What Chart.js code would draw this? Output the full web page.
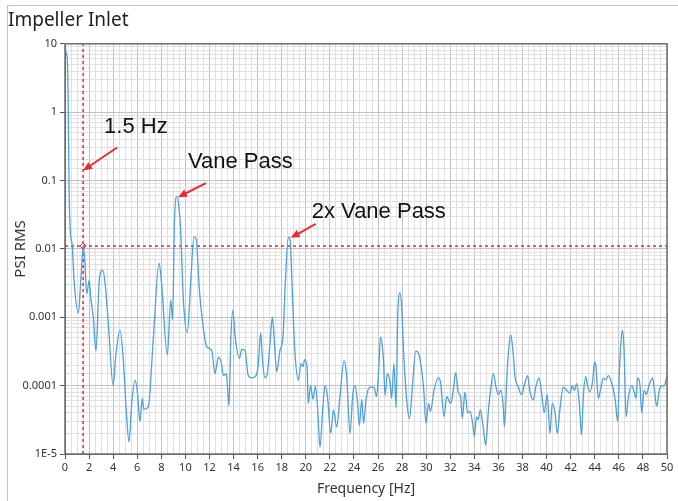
<!DOCTYPE html>
<html>
<head>
<meta charset="utf-8">
<script src="https://cdn.jsdelivr.net/npm/chart.js@4.4.0/dist/chart.umd.min.js"></script>
<style>
  html, body { margin: 0; padding: 0; background: #fff; }
  #wrap { position: relative; width: 678px; height: 501px; }
  #wrap canvas { position: absolute; left: 0; top: 0; }
  #frame { position: absolute; left: 7px; top: 5px; right: 0; bottom: 0;
           border-left: 1px solid #a9c6e4; border-top: 1px solid #a9c6e4; pointer-events: none; }
</style>
</head>
<body>
<div id="wrap">
  <canvas id="spectrum" width="678" height="501"></canvas>
  <div id="frame"></div>
</div>
<script>
// Pressure spectrum at the impeller inlet (PSI RMS vs frequency)
const freqHz = [
  0, 0.19, 0.27, 0.34, 0.42, 0.61, 0.75, 1.11, 1.3, 1.52,
  1.65, 1.8, 2.02, 2.13, 2.35, 2.57, 2.85, 3.13, 3.3, 3.6,
  4.0, 4.24, 4.57, 4.85, 5.07, 5.32, 5.54, 5.81, 6.0, 6.23,
  6.42, 6.55, 6.92, 7.34, 7.81, 8.0, 8.5, 8.78, 8.94, 9.08,
  9.27, 9.45, 9.6, 9.83, 10.16, 10.44, 10.71, 10.9, 11.16, 11.44,
  11.77, 12.18, 12.46, 12.73, 13.0, 13.15, 13.4, 13.62, 13.76, 13.93,
  14.16, 14.48, 14.68, 14.95, 15.22, 15.5, 15.86, 16.06, 16.25, 16.4,
  16.6, 16.8, 17.03, 17.22, 17.4, 17.58, 17.86, 18.1, 18.3, 18.55,
  18.7, 18.9, 19.1, 19.38, 19.6, 19.77, 19.9, 20.1, 20.2, 20.4,
  20.6, 20.8, 20.99, 21.18, 21.4, 21.6, 21.8, 22.07, 22.29, 22.56,
  22.84, 23.17, 23.4, 23.67, 23.9, 24.09, 24.3, 24.45, 24.65, 24.8,
  25.0, 25.33, 25.66, 25.88, 26.08, 26.2, 26.45, 26.58, 26.77, 27.0,
  27.13, 27.32, 27.5, 27.63, 27.82, 27.96, 28.16, 28.38, 28.6, 28.88,
  29.13, 29.35, 29.62, 29.8, 29.98, 30.2, 30.35, 30.65, 31.0, 31.2,
  31.48, 31.7, 32.03, 32.25, 32.45, 32.67, 32.86, 33.0, 33.22, 33.44,
  33.64, 33.86, 34.0, 34.18, 34.32, 34.5, 34.73, 34.94, 35.17, 35.38,
  35.57, 35.8, 35.99, 36.2, 36.4, 36.5, 36.7, 36.88, 37.02, 37.2,
  37.38, 37.65, 37.92, 38.2, 38.43, 38.6, 38.9, 39.1, 39.37, 39.6,
  39.8, 40.05, 40.28, 40.47, 40.7, 40.89, 41.1, 41.39, 41.67, 41.94,
  42.14, 42.3, 42.5, 42.72, 42.9, 43.05, 43.25, 43.4, 43.6, 43.83,
  43.97, 44.1, 44.3, 44.5, 44.72, 44.9, 45.13, 45.4, 45.7, 45.9,
  46.05, 46.18, 46.29, 46.43, 46.6, 46.8, 47.07, 47.3, 47.43, 47.56,
  47.76, 47.9, 48.1, 48.3, 48.5, 48.8, 48.96, 49.14, 49.36, 49.55,
  49.75, 50.0
];

const psiRms = [
  8.1, 5.9, 1.2, 0.072, 0.021, 0.0107, 0.0035, 0.00115, 0.0032, 0.011,
  0.0063, 0.0022, 0.0035, 0.002, 0.001, 0.00032, 0.0035, 0.0049, 0.0035, 0.00081,
  1.0e-4, 3.0e-4, 6.5e-4, 2.3e-4, 4.9e-5, 1.5e-5, 5.5e-5, 1.2e-4, 8.5e-5, 3.0e-5,
  6.5e-5, 4.5e-5, 4.9e-5, 5.1e-4, 6.2e-3, 3.5e-3, 2.8e-4, 1.8e-3, 9.1e-4, 0.021,
  0.058, 0.042, 0.02, 1.8e-3, 5.9e-4, 3.2e-3, 0.015, 0.0138, 2.5e-3, 8.1e-4,
  3.7e-4, 3.3e-4, 1.5e-4, 2.6e-4, 2.1e-4, 1.4e-4, 1.5e-4, 5.1e-5, 4.2e-4, 1.26e-3,
  4.7e-4, 2.5e-4, 3.4e-4, 3.3e-4, 1.4e-4, 1.3e-4, 1.4e-4, 2.1e-4, 5.9e-4, 2.4e-4,
  1.3e-4, 1.5e-4, 4.2e-4, 1.0e-3, 4.2e-4, 1.6e-4, 3.3e-4, 5.0e-4, 3.2e-3, 0.0148,
  0.0132, 1.8e-3, 3.0e-4, 1.2e-4, 2.1e-4, 1.9e-4, 2.4e-4, 1.9e-4, 5.5e-5, 1.0e-4,
  6.3e-5, 9.8e-5, 4.4e-5, 1.26e-5, 4.4e-5, 1.0e-4, 6.9e-5, 2.0e-5, 4.4e-5, 2.5e-5,
  6.9e-5, 2.3e-4, 1.35e-4, 2.0e-5, 7.4e-5, 1.0e-4, 5.5e-5, 2.6e-5, 6.3e-5, 2.8e-5,
  6.2e-5, 9.5e-5, 9.5e-5, 6.9e-5, 2.1e-4, 5.1e-4, 2.4e-4, 7.2e-5, 1.5e-4, 1.1e-4,
  6.5e-5, 2.1e-4, 4.7e-5, 9.1e-4, 2.3e-3, 1.45e-3, 2.3e-4, 6.2e-5, 3.3e-5, 1.1e-4,
  3.2e-4, 3.0e-4, 1.7e-4, 8.5e-5, 2.8e-5, 5.5e-5, 4.2e-5, 8.5e-5, 1.3e-4, 1.1e-4,
  3.5e-5, 6.9e-5, 5.5e-5, 8.5e-5, 1.55e-4, 7.9e-5, 6.9e-5, 3.3e-5, 8.1e-5, 4.0e-5,
  4.2e-5, 2.8e-5, 1.8e-5, 3.5e-5, 3.2e-5, 4.4e-5, 2.5e-5, 1.35e-5, 4.4e-5, 9.5e-5,
  1.5e-4, 9.5e-5, 7.4e-5, 8.5e-5, 4.9e-5, 2.5e-5, 1.35e-4, 3.9e-4, 5.5e-4, 3.3e-4,
  1.35e-4, 9.5e-5, 7.4e-5, 1.1e-4, 1.4e-4, 8.5e-5, 6.2e-5, 9.5e-5, 1.3e-4, 7.4e-5,
  4.0e-5, 7.4e-5, 2.0e-5, 5.5e-5, 4.0e-5, 2.0e-5, 4.4e-5, 9.5e-5, 8.5e-5, 7.8e-5,
  1.0e-4, 8.5e-5, 1.07e-4, 5.5e-5, 1.9e-5, 6.9e-5, 1.35e-4, 1.0e-4, 8.1e-5, 1.2e-4,
  2.2e-4, 1.9e-4, 6.5e-5, 9.1e-5, 1.3e-4, 1.2e-4, 1.4e-4, 1.1e-4, 6.2e-5, 3.0e-5,
  1.7e-4, 4.4e-4, 6.5e-4, 3.5e-4, 3.5e-5, 6.9e-5, 1.0e-4, 7.8e-5, 6.5e-5, 1.3e-4,
  1.0e-4, 4.0e-5, 8.5e-5, 7.4e-5, 1.0e-4, 1.3e-4, 8.5e-5, 5.0e-5, 8.5e-5, 1.0e-4,
  9.8e-5, 1.4e-4
];

// decade labels on the log axis
const yTickLabels = { 10: '10', 1: '1', 0.1: '0.1', 0.01: '0.01', 0.001: '0.001', 0.0001: '0.0001', 0.00001: '1E-5' };

// red cursor lines
const cursorFreq = 1.5;
const cursorLevel = 0.011;

// arrow callouts: tip in data units
const callouts = [
  { text: '1.5 Hz', freq: 1.5, level: 0.14 },
  { text: 'Vane Pass', freq: 9.38, level: 0.057 },
  { text: '2x Vane Pass', freq: 18.75, level: 0.0145 }
];
const calloutOffsets = [
  { tail: [34, -23], label: [21, -38] },
  { tail: [28, -14], label: [10, -29] },
  { tail: [25, -14], label: [21, -20] }
];

const X_MIN = 0, X_MAX = 50, Y_MIN = 1e-5, Y_MAX = 10;
const MAJOR_GRID = '#c2c2c2';
const MINOR_GRID = '#e0e0e0';
const RED = '#e62d32';

function isDecade(v) {
  const l = Math.log10(v);
  return Math.abs(l - Math.round(l)) < 1e-6;
}

const spectrum = freqHz.map((f, i) => ({ x: f, y: psiRms[i] }));

const calloutPlugin = {
  id: 'callouts',
  afterDatasetsDraw(chart) {
    const { ctx, scales: { x, y } } = chart;
    ctx.save();
    callouts.forEach((c, i) => {
      const off = calloutOffsets[i];
      const tx = x.getPixelForValue(c.freq);
      const ty = y.getPixelForValue(c.level);
      const sx = tx + off.tail[0];
      const sy = ty + off.tail[1];
      const ang = Math.atan2(ty - sy, tx - sx);
      const head = 9;
      ctx.strokeStyle = RED;
      ctx.fillStyle = RED;
      ctx.lineWidth = 2;
      ctx.beginPath();
      ctx.moveTo(sx, sy);
      ctx.lineTo(tx - Math.cos(ang) * head * 0.8, ty - Math.sin(ang) * head * 0.8);
      ctx.stroke();
      ctx.beginPath();
      ctx.moveTo(tx, ty);
      ctx.lineTo(tx - head * Math.cos(ang) + 4 * Math.sin(ang), ty - head * Math.sin(ang) - 4 * Math.cos(ang));
      ctx.lineTo(tx - head * Math.cos(ang) - 4 * Math.sin(ang), ty - head * Math.sin(ang) + 4 * Math.cos(ang));
      ctx.closePath();
      ctx.fill();
      ctx.fillStyle = '#111';
      ctx.font = '22px "Liberation Sans", Arial, sans-serif';
      ctx.textAlign = 'left';
      ctx.textBaseline = 'alphabetic';
      ctx.fillText(c.text, tx + off.label[0], ty + off.label[1]);
    });
    ctx.restore();
  },
  afterDraw(chart) {
    const { ctx, chartArea: a } = chart;
    ctx.save();
    ctx.strokeStyle = '#6e6e6e';
    ctx.lineWidth = 1.5;
    ctx.strokeRect(a.left, a.top, a.right - a.left, a.bottom - a.top);
    ctx.restore();
  }
};

new Chart(document.getElementById('spectrum'), {
  type: 'line',
  data: {
    datasets: [
      {
        data: spectrum,
        borderColor: '#4f9fd9',
        borderWidth: 1.3,
        pointRadius: 0,
        cubicInterpolationMode: 'monotone',
        order: 1
      },
      {
        data: [{ x: cursorFreq, y: Y_MIN }, { x: cursorFreq, y: Y_MAX }],
        borderColor: RED,
        borderWidth: 1.5,
        borderDash: [3, 3],
        pointRadius: 0,
        order: 2
      },
      {
        data: [{ x: X_MIN, y: cursorLevel }, { x: X_MAX, y: cursorLevel }],
        borderColor: RED,
        borderWidth: 1.5,
        borderDash: [3, 3],
        pointRadius: 0,
        order: 2
      },
      {
        // cursor crossing marker
        data: [{ x: cursorFreq, y: cursorLevel }],
        showLine: false,
        pointStyle: 'rectRot',
        pointRadius: 3,
        borderColor: RED,
        borderWidth: 1,
        backgroundColor: 'rgba(0,0,0,0)',
        order: 0
      }
    ]
  },
  options: {
    responsive: false,
    animation: false,
    layout: { padding: { left: 8, right: 11, top: 0, bottom: 0 } },
    plugins: {
      legend: { display: false },
      tooltip: { enabled: false },
      title: {
        display: true,
        text: 'Impeller Inlet',
        align: 'start',
        color: '#222',
        font: { family: '"Noto Sans", sans-serif', size: 19, weight: 'normal' },
        padding: { top: 9, bottom: 12 }
      }
    },
    scales: {
      x: {
        type: 'linear',
        min: X_MIN,
        max: X_MAX,
        afterFit(scale) { scale.height = 47; },
        ticks: {
          stepSize: 0.5,
          autoSkip: false,
          maxRotation: 0,
          padding: 2,
          color: '#333',
          font: { family: '"Noto Sans", sans-serif', size: 11 },
          callback: v => (v % 2 === 0 ? String(v) : '')
        },
        grid: {
          tickLength: 5,
          color: ctx => (ctx.tick && ctx.tick.value % 2 === 0 ? MAJOR_GRID : MINOR_GRID),
          tickColor: ctx => (ctx.tick && ctx.tick.value % 2 === 0 ? '#555' : 'rgba(0,0,0,0)')
        },
        border: { color: '#6e6e6e' },
        title: {
          display: true,
          text: 'Frequency [Hz]',
          color: '#333',
          font: { family: '"Noto Sans", sans-serif', size: 14 }
        }
      },
      y: {
        type: 'logarithmic',
        min: Y_MIN,
        max: Y_MAX,
        afterFit(scale) { scale.width = 57; },
        ticks: {
          autoSkip: false,
          padding: 3,
          color: '#333',
          font: { family: '"Noto Sans", sans-serif', size: 11 },
          callback: v => {
            if (!isDecade(v)) return '';
            const key = Object.keys(yTickLabels).find(k => Math.abs(Math.log10(+k) - Math.log10(v)) < 1e-6);
            return key ? yTickLabels[key] : '';
          }
        },
        grid: {
          tickLength: 5,
          color: ctx => (ctx.tick && isDecade(ctx.tick.value) ? MAJOR_GRID : MINOR_GRID),
          tickColor: ctx => (ctx.tick && isDecade(ctx.tick.value) ? '#555' : 'rgba(0,0,0,0)')
        },
        border: { color: '#6e6e6e' },
        title: {
          display: true,
          text: 'PSI RMS',
          color: '#333',
          font: { family: '"Noto Sans", sans-serif', size: 15 }
        }
      }
    }
  },
  plugins: [calloutPlugin]
});
</script>
</body>
</html>
